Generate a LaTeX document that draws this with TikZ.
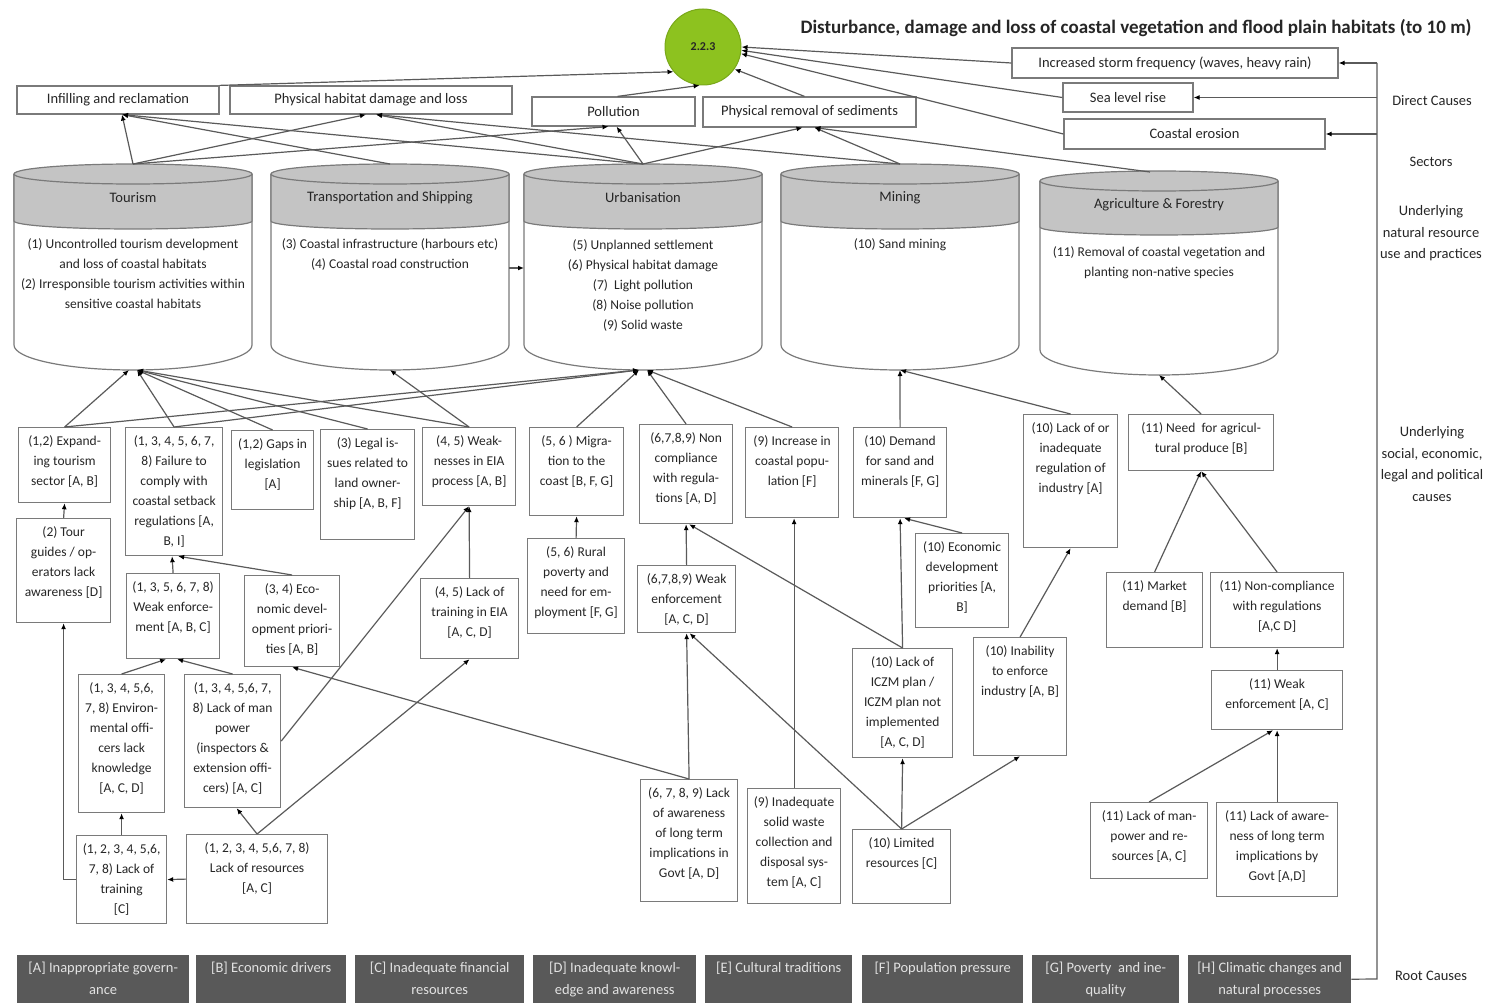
\documentclass[tikz,border=0pt]{standalone}
\usepackage{fontspec}
\setmainfont{Carlito}
\usetikzlibrary{arrows.meta,calc}
\definecolor{txt}{HTML}{262626}
\definecolor{edge}{HTML}{7A7A7A}
\definecolor{conn}{HTML}{5A5A5A}
\definecolor{cylgrey}{HTML}{C4C4C4}
\definecolor{rootgrey}{HTML}{595959}
\definecolor{roottext}{HTML}{E2E2E2}
\definecolor{goalgreen}{HTML}{8DC21F}
\definecolor{goalborder}{HTML}{79A81A}
\newcommand\fsbox{\fontsize{13.5}{20}\selectfont}
\newcommand\fsdc{\fontsize{14.5}{17}\selectfont}
\newcommand\fshead{\fontsize{14.5}{17}\selectfont}
\newcommand\fsside{\fontsize{14.5}{21.5}\selectfont}
\newcommand\fsroot{\fontsize{14.5}{22}\selectfont}
\tikzset{
  bx/.style={draw=edge, line width=1.2pt, fill=white, inner sep=0pt, font=\fsbox, text=txt},
  dc/.style={draw=edge, line width=1.2pt, fill=white, inner sep=0pt, font=\fsdc, text=txt},
  cylline/.style={draw=edge, line width=1.2pt},
  ln/.style={draw=conn, line width=1.2pt},
  arr/.style={ln, -{Latex[length=6pt,width=5pt,color=black]}},
  rootbox/.style={fill=rootgrey, inner sep=0pt, font=\fsroot, text=roottext, anchor=north west},
  side/.style={font=\fsside, text=txt, align=center},
}
% box: name, x1, y1, x2, y2, text
\newcommand\bx[6]{%
  \pgfmathsetmacro\bxw{#4-#2}\pgfmathsetmacro\bxh{#5-#3}%
  \node[bx, anchor=north west] (#1) at (#2,#3) {\parbox[t][\bxh pt][t]{\bxw pt}{\centering\rule{0pt}{18pt}#6\par}};}
% text block: name, cx, top, width, text
\newcommand\tb[5]{%
  \node[anchor=north, inner sep=0pt, font=\fsbox, text=txt] (#1) at (#2,#3) {\parbox[t]{#4pt}{\centering\rule{0pt}{18pt}#5\par}};}
% root bar: name, x1, x2, text
\newcommand\rb[4]{%
  \pgfmathsetmacro\bxw{#3-#2}%
  \node[rootbox] (#1) at (#2,955) {\parbox[t][48pt][t]{\bxw pt}{\centering\rule{0pt}{17pt}#4\par}};}
% cylinder: name, xl, xr, ytop, yband, yside
\newcommand\cyl[6]{%
  \pgfmathsetmacro\cyx{(#2+#3)/2}%
  \pgfmathsetmacro\cyr{(#3-#2)/2}%
  \pgfmathsetmacro\cyk{0.5523*(#3-#2)/2}%
  \draw[cylline, fill=white] (#2,#4) -- (#2,#6) .. controls (#2,#6+13.8) and (\cyx-\cyk,#6+25) .. (\cyx,#6+25) .. controls (\cyx+\cyk,#6+25) and (#3,#6+13.8) .. (#3,#6) -- (#3,#4);
  \draw[cylline, fill=cylgrey] (#2,#4) -- (#2,#5) .. controls (#2,#5+4.4) and (\cyx-\cyk,#5+8) .. (\cyx,#5+8) .. controls (\cyx+\cyk,#5+8) and (#3,#5+4.4) .. (#3,#5) -- (#3,#4);
  \draw[cylline, fill=cylgrey] (\cyx,#4) ellipse [x radius=\cyr, y radius=10];
  \coordinate (#1-top) at (\cyx,#4-10);
  \coordinate (#1-bot) at (\cyx,#6+25);
}
\begin{document}
\begin{tikzpicture}[x=1pt,y=-1pt]
\useasboundingbox (0,0) rectangle (1485,1003);
\fill[white] (0,0) rectangle (1485,1003);

% title and goal
\node[font=\bfseries\fontsize{19}{22}\selectfont, text=txt] (title) at (1136,28) {Disturbance, damage and loss of coastal vegetation and flood plain habitats (to 10 m)};
\node[circle, draw=goalborder, line width=1pt, fill=goalgreen, minimum size=76pt, inner sep=0pt, font=\bfseries\fontsize{12}{14}\selectfont, text=txt] (goal) at (703,47) {2.2.3};

% direct causes
\node[dc, minimum width=202pt, minimum height=28pt] (infill) at (118,100) {Infilling and reclamation};
\node[dc, minimum width=282pt, minimum height=28pt] (phys) at (371,100) {Physical habitat damage and loss};
\node[dc, minimum width=163pt, minimum height=29pt] (poll) at (613.5,111.5) {Pollution};
\node[dc, minimum width=213pt, minimum height=30pt] (remove) at (809.5,112) {Physical removal of sediments};
\node[dc, minimum width=326pt, minimum height=30pt] (storm) at (1175,63) {Increased storm frequency (waves, heavy rain)};
\node[dc, minimum width=130pt, minimum height=29pt] (slr) at (1128,97.5) {Sea level rise};
\node[dc, minimum width=261pt, minimum height=30pt] (ero) at (1194.5,134) {Coastal erosion};

% side labels
\node[side] (lab-dc) at (1432,101) {Direct Causes};
\node[side] (lab-sec) at (1431,162) {Sectors};
\node[side, anchor=north] (lab-nat) at (1431,202) {Underlying\\natural resource\\use and practices};
\node[side, anchor=north] (lab-soc) at (1432,423) {Underlying\\social, economic,\\legal and political\\causes};
\node[side] (lab-root) at (1431,976) {Root Causes};

% sectors
\cyl{tour}{14}{252}{174}{221}{345}
\cyl{trans}{271}{509}{174}{221}{345}
\cyl{urb}{524}{762}{174}{221}{345}
\cyl{mine}{781}{1019}{174}{221}{345}
\cyl{agr}{1040}{1278}{181}{227}{350}
\node[font=\fshead, text=txt] (tour-h) at (133,198) {Tourism};
\node[font=\fshead, text=txt] (trans-h) at (390,198) {Transportation and Shipping};
\node[font=\fshead, text=txt] (urb-h) at (643,198) {Urbanisation};
\node[font=\fshead, text=txt] (mine-h) at (900,198) {Mining};
\node[font=\fshead, text=txt] (agr-h) at (1159,205) {Agriculture \& Forestry};
\tb{tour-x}{133}{230}{236}{(1) Uncontrolled tourism development\\and loss of coastal habitats\\(2) Irresponsible tourism activities within\\sensitive coastal habitats}
\tb{trans-x}{390}{230}{236}{(3) Coastal infrastructure (harbours etc)\\(4) Coastal road construction}
\tb{urb-x}{643}{231}{236}{(5) Unplanned settlement\\(6) Physical habitat damage\\(7)\ \ Light pollution\\(8) Noise pollution\\(9) Solid waste}
\tb{mine-x}{900}{230}{236}{(10) Sand mining}
\tb{agr-x}{1159}{238}{236}{(11) Removal of coastal vegetation and\\planting non-native species}
\coordinate (trans-r) at (509,268);
\coordinate (urb-l) at (524,268);
\coordinate (agr-in) at (1150,172);

% row 1
\bx{a1}{18}{427}{110}{502}{(1,2) Expand-\\ing tourism\\sector [A, B]}
\bx{a2}{125}{427}{222}{555}{(1, 3, 4, 5, 6, 7,\\8) Failure to\\comply with\\coastal setback\\regulations [A,\\B, I]}
\bx{a3}{231}{430}{313}{509}{(1,2) Gaps in\\legislation\\{}[A]}
\bx{a4}{320}{429}{414}{539}{(3) Legal is-\\sues related to\\land owner-\\ship [A, B, F]}
\bx{a5}{422}{427}{515}{505}{(4, 5) Weak-\\nesses in EIA\\process [A, B]}
\bx{a6}{529}{427}{623}{515}{(5, 6 ) Migra-\\tion to the\\coast [B, F, G]}
\bx{a7}{639}{424}{732}{523}{(6,7,8,9) Non\\compliance\\with regula-\\tions [A, D]}
\bx{a8}{745}{427}{838}{517}{(9) Increase in\\coastal popu-\\lation [F]}
\bx{a9}{853}{427}{946}{517}{(10) Demand\\for sand and\\minerals [F, G]}
\bx{a10}{1023}{414}{1117}{547}{(10) Lack of or\\inadequate\\regulation of\\industry [A]}
\bx{a11}{1128}{414}{1273}{470}{(11) Need\ \ for agricul-\\tural produce [B]}

% row 2
\bx{b1}{16}{518}{110}{622}{(2) Tour\\guides / op-\\erators lack\\awareness [D]}
\bx{b2}{126}{573}{219}{658}{(1, 3, 5, 6, 7, 8)\\Weak enforce-\\ment [A, B, C]}
\bx{b3}{244}{575}{339}{666}{(3, 4) Eco-\\nomic devel-\\opment priori-\\ties [A, B]}
\bx{b4}{420}{578}{518}{658}{(4, 5) Lack of\\training in EIA\\{}[A, C, D]}
\bx{b5}{527}{538}{624}{633}{(5, 6) Rural\\poverty and\\need for em-\\ployment [F, G]}
\bx{b6}{637}{565}{735}{632}{(6,7,8,9) Weak\\enforcement\\{}[A, C, D]}
\bx{b7}{915}{533}{1008}{627}{(10) Economic\\development\\priorities [A,\\B]}
\bx{b8}{1106}{572}{1202}{647}{(11) Market\\demand [B]}
\bx{b9}{1210}{572}{1343}{647}{(11) Non-compliance\\with regulations\\{}[A,C D]}

% row 3
\bx{c1}{78}{674}{164}{812}{(1, 3, 4, 5,6,\\7, 8) Environ-\\mental offi-\\cers lack\\knowledge\\{}[A, C, D]}
\bx{c2}{184}{674}{280}{807}{(1, 3, 4, 5,6, 7,\\8) Lack of man\\power\\(inspectors \&\\extension offi-\\cers) [A, C]}
\bx{c3}{852}{648}{952}{757}{(10) Lack of\\ICZM plan /\\ICZM plan not\\implemented\\{}[A, C, D]}
\bx{c4}{973}{637}{1066}{755}{(10) Inability\\to enforce\\industry [A, B]}
\bx{c5}{1211}{670}{1342}{729}{(11) Weak\\enforcement [A, C]}

% row 4
\bx{d1}{76}{835}{166}{923}{(1, 2, 3, 4, 5,6,\\7, 8) Lack of\\training\\{}[C]}
\bx{d2}{186}{834}{327}{923}{(1, 2, 3, 4, 5,6, 7, 8)\\Lack of resources\\{}[A, C]}
\bx{d3}{640}{779}{737}{901}{(6, 7, 8, 9) Lack\\of awareness\\of long term\\implications in\\Govt [A, D]}
\bx{d4}{747}{788}{840}{903}{(9) Inadequate\\solid waste\\collection and\\disposal sys-\\tem [A, C]}
\bx{d5}{852}{829}{950}{903}{(10) Limited\\resources [C]}
\bx{d6}{1090}{802}{1207}{878}{(11) Lack of man-\\power and re-\\sources [A, C]}
\bx{d7}{1216}{802}{1337}{896}{(11) Lack of aware-\\ness of long term\\implications by\\Govt [A,D]}

% root causes
\rb{rA}{17}{189}{[A] Inappropriate govern-\\ance}
\rb{rB}{196}{346}{[B] Economic drivers}
\rb{rC}{355}{524}{[C] Inadequate financial\\resources}
\rb{rD}{533}{696}{[D] Inadequate knowl-\\edge and awareness}
\rb{rE}{705}{852}{[E] Cultural traditions}
\rb{rF}{862}{1023}{[F] Population pressure}
\rb{rG}{1032}{1179}{[G] Poverty\ \ and ine-\\quality}
\rb{rH}{1188}{1351}{[H] Climatic changes and\\natural processes}

% spine on the right
\coordinate (spB) at (1377,979);
\coordinate (spT) at (1377,63);
\draw[ln] (rH.east) -- (spB) -- (spT);
\draw[arr] (spT) -- (storm.east);
\draw[arr] (spT |- slr.east) -- (slr.east);
\draw[arr] (spT |- ero.east) -- (ero.east);

% direct causes to goal
\draw[arr] (storm.west) -- (goal.0);
\draw[arr] (slr.west) -- (goal.-5);
\draw[arr] (ero.west) -- (goal.-10);
\draw[arr] (infill.north east) -- (goal.-140);
\draw[arr] ([xshift=4pt]poll.north) -- (goal.-95);
\draw[arr] ([xshift=-5pt]remove.north) -- (goal.-35);

% sectors to direct causes
\draw[arr] (tour-top) -- ([xshift=4pt]infill.south);
\draw[arr] (trans-top) -- ([xshift=4pt]infill.south);
\draw[arr] (urb-top) -- ([xshift=4pt]infill.south);
\draw[arr] (tour-top) -- ([xshift=-5pt]phys.south);
\draw[arr] (urb-top) -- ([xshift=5pt]phys.south);
\draw[arr] (mine-top) -- ([xshift=5pt]phys.south);
\draw[arr] (tour-top) -- ([xshift=-5pt]poll.south);
\draw[arr] (urb-top) -- ([xshift=3pt]poll.south);
\draw[arr] (urb-top) -- ([xshift=-7pt]remove.south);
\draw[arr] (mine-top) -- ([xshift=5pt]remove.south);
\draw[arr] (agr-in) -- ([xshift=5pt]remove.south);
\draw[arr] (trans-r) -- (urb-l);

% row 1 to sectors
\draw[arr] (a1.north) -- ([xshift=-4pt]tour-bot);
\draw[arr] (a2.north) -- ([xshift=4pt]tour-bot);
\draw[arr] (a3.north) -- ([xshift=4pt]tour-bot);
\draw[arr] (a4.north) -- ([xshift=4pt]tour-bot);
\draw[arr] (a5.north) -- ([xshift=4pt]tour-bot);
\draw[arr] (a5.north) -- (trans-bot);
\draw[arr] (a1.north) -- ([xshift=-4pt]urb-bot);
\draw[arr] (a2.north) -- ([xshift=-4pt]urb-bot);
\draw[arr] (a6.north) -- ([xshift=-4pt]urb-bot);
\draw[arr] (a7.north) -- ([xshift=4pt]urb-bot);
\draw[arr] (a8.north) -- ([xshift=4pt]urb-bot);
\draw[arr] (a9.north) -- (mine-bot);
\draw[arr] (a10.north) -- (mine-bot);
\draw[arr] (a11.north) -- (agr-bot);

% row 2 to row 1
\draw[arr] (b1.north) -- (a1.south);
\draw[arr] (b2.north) -- ([xshift=-2pt]a2.south);
\draw[arr] (b3.north) -- ([xshift=4pt]a2.south);
\draw[arr] (b4.north) -- (a5.south);
\draw[arr] (c2.east) -- (a5.south);
\draw[arr] (b5.north) -- (a6.south);
\draw[arr] (b6.north) -- (a7.south);
\draw[arr] (c3.north) -- ([xshift=3pt]a7.south);
\draw[arr] (d4.north) -- (d4.north |- a8.south);
\draw[arr] (c3.north) -- (a9.south);
\draw[arr] (b7.north) -- ([xshift=4pt]a9.south);
\draw[arr] (c4.north) -- (a10.south);
\draw[arr] (b8.north) -- (a11.south);
\draw[arr] (b9.north) -- (a11.south);

% row 3 to row 2
\draw[arr] (c1.north) -- ([xshift=-7pt]b2.south);
\draw[arr] (c2.north) -- ([xshift=4pt]b2.south);
\draw[arr] (d3.north) -- (b3.south);
\draw[arr] (d2.north) -- (b4.south);
\draw[arr] (d3.north) -- (b6.south);
\draw[arr] (d5.north) -- ([xshift=3pt]b6.south);
\draw[arr] (c5.north) -- (b9.south);

% row 4 to row 3
\draw[arr] (d1.north) -- (c1.south);
\draw[arr] (d2.north) -- ([xshift=4pt]c2.south);
\draw[arr] (d2.west) -- (d1.east);
\draw[arr] (d1.west) -| (b1.south);
\draw[arr] (d5.north) -- (c3.south);
\draw[arr] (d5.north) -- (c4.south);
\draw[arr] (d6.north) -- ([xshift=-4pt]c5.south);
\draw[arr] (d7.north) -- (c5.south);
\end{tikzpicture}
\end{document}
